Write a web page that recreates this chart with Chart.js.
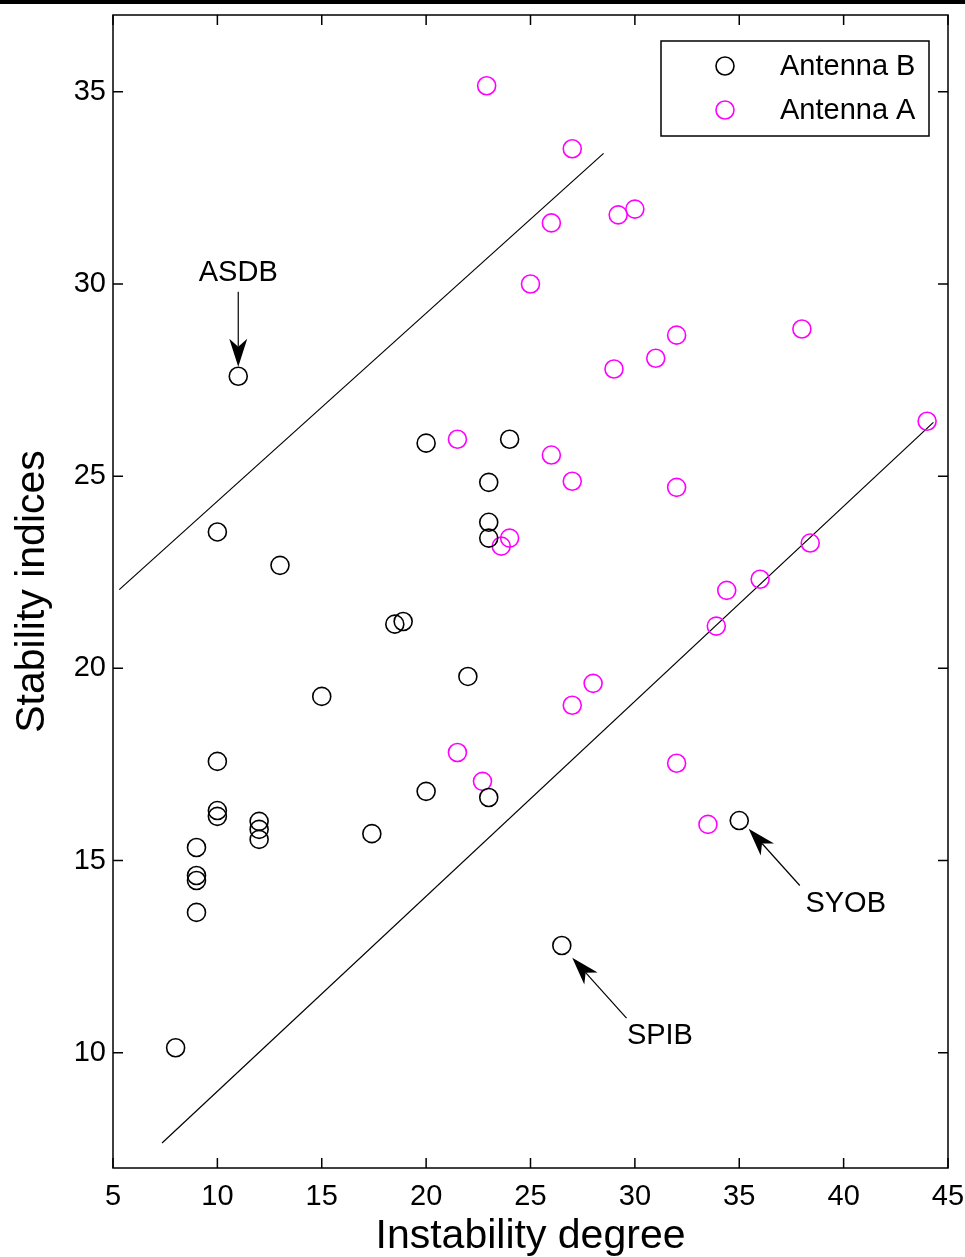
<!DOCTYPE html>
<html>
<head>
<meta charset="utf-8">
<title>Stability indices vs instability degree</title>
<script src="https://cdn.jsdelivr.net/npm/chart.js@4/dist/chart.umd.min.js"></script>
<style>
  html, body { margin: 0; padding: 0; background: #fff; }
  canvas { display: block; }
</style>
</head>
<body>
<canvas id="stabilityChart" width="965" height="1257"></canvas>
<script>
// Antenna B stations (black circles)
const antennaBX = [11, 10, 13, 20, 24, 23, 23, 23, 18.5, 18.9, 22, 15, 10, 10, 10, 12, 12, 12, 17.4, 20, 23, 9, 9, 9, 9, 8, 26.5, 35];
const antennaBY = [27.6, 23.55, 22.68, 25.86, 25.96, 24.84, 23.8, 23.39, 21.15, 21.22, 19.79, 19.27, 17.58, 16.3, 16.15, 16.02, 15.81, 15.55, 15.7, 16.8, 16.64, 15.34, 14.61, 14.48, 13.65, 10.13, 12.79, 16.04];

// Antenna A stations (magenta circles)
const antennaAX = [22.9, 27, 26, 29.2, 30, 25, 29, 31, 32, 38, 44, 21.5, 26, 27, 32, 24, 23.6, 38.4, 36, 34.4, 33.9, 28, 27, 21.5, 22.7, 32, 33.5];
const antennaAY = [35.16, 33.52, 31.59, 31.8, 31.95, 30.0, 27.79, 28.07, 28.67, 28.83, 26.43, 25.96, 25.55, 24.87, 24.71, 23.39, 23.18, 23.26, 22.32, 22.03, 21.1, 19.61, 19.04, 17.81, 17.06, 17.53, 15.94];

// boundary lines (end points)
const upperLineX = [5.3, 28.5];
const upperLineY = [22.05, 33.4];
const lowerLineX = [7.35, 44.3];
const lowerLineY = [7.65, 26.4];

// axis ticks
const xTicks = [5, 10, 15, 20, 25, 30, 35, 40, 45];
const yTicks = [10, 15, 20, 25, 30, 35];

// labelled stations: text position, arrow tail, arrow tip (data units)
const callouts = [
    { text: 'ASDB', tx: 11, ty: 30.3, fromX: 11, fromY: 29.8, toX: 11, toY: 27.85 },
    { text: 'SPIB', tx: 31.2, ty: 10.44, fromX: 29.6, fromY: 10.9, toX: 27.0, toY: 12.47 },
    { text: 'SYOB', tx: 40.1, ty: 13.88, fromX: 37.9, fromY: 14.35, toX: 35.45, toY: 15.83 }
];

const FONT = "'Liberation Sans', Arial, sans-serif";
const MAGENTA = '#ff00ff';

const toPoints = (xs, ys) => xs.map((x, i) => ({ x: x, y: ys[i] }));

// frame, inward tick marks, titles, callouts and legend
const framePlugin = {
    id: 'framePlugin',
    beforeDraw(chart) {
        const ctx = chart.ctx;
        ctx.save();
        ctx.fillStyle = '#fff';
        ctx.fillRect(0, 0, chart.width, chart.height);
        ctx.fillStyle = '#000';
        ctx.fillRect(0, 0, chart.width, 4);
        ctx.restore();
    },
    afterDraw(chart) {
        const ctx = chart.ctx;
        const { left, right, top, bottom } = chart.chartArea;
        const xs = chart.scales.x;
        const ys = chart.scales.y;
        const tick = 10;

        ctx.save();
        ctx.strokeStyle = '#000';
        ctx.lineWidth = 1.5;
        ctx.strokeRect(left, top, right - left, bottom - top);

        ctx.beginPath();
        xTicks.forEach(v => {
            const px = xs.getPixelForValue(v);
            ctx.moveTo(px, bottom); ctx.lineTo(px, bottom - tick);
            ctx.moveTo(px, top); ctx.lineTo(px, top + tick);
        });
        yTicks.forEach(v => {
            const py = ys.getPixelForValue(v);
            ctx.moveTo(left, py); ctx.lineTo(left + tick, py);
            ctx.moveTo(right, py); ctx.lineTo(right - tick, py);
        });
        ctx.stroke();

        // axis titles
        ctx.fillStyle = '#000';
        ctx.font = '41px ' + FONT;
        ctx.textAlign = 'center';
        ctx.textBaseline = 'middle';
        ctx.fillText('Instability degree', (left + right) / 2, 1237);
        ctx.save();
        ctx.translate(33, (top + bottom) / 2);
        ctx.rotate(-Math.PI / 2);
        ctx.fillText('Stability indices', 0, 0);
        ctx.restore();

        // station callouts with arrows
        ctx.font = '29px ' + FONT;
        callouts.forEach(c => {
            ctx.fillText(c.text, xs.getPixelForValue(c.tx), ys.getPixelForValue(c.ty));
            const x0 = xs.getPixelForValue(c.fromX), y0 = ys.getPixelForValue(c.fromY);
            const x1 = xs.getPixelForValue(c.toX), y1 = ys.getPixelForValue(c.toY);
            const ang = Math.atan2(y1 - y0, x1 - x0);
            const headLen = 28, notch = 20, halfW = 9;
            const ux = Math.cos(ang), uy = Math.sin(ang);
            ctx.lineWidth = 1.2;
            ctx.beginPath();
            ctx.moveTo(x0, y0);
            ctx.lineTo(x1 - ux * notch, y1 - uy * notch);
            ctx.stroke();
            ctx.beginPath();
            ctx.moveTo(x1, y1);
            ctx.lineTo(x1 - ux * headLen - uy * halfW, y1 - uy * headLen + ux * halfW);
            ctx.lineTo(x1 - ux * notch, y1 - uy * notch);
            ctx.lineTo(x1 - ux * headLen + uy * halfW, y1 - uy * headLen - ux * halfW);
            ctx.closePath();
            ctx.fill();
        });

        // legend box
        const bx = right - 287, by = top + 26, bw = 268, bh = 95;
        ctx.fillStyle = '#fff';
        ctx.fillRect(bx, by, bw, bh);
        ctx.lineWidth = 1.5;
        ctx.strokeStyle = '#000';
        ctx.strokeRect(bx, by, bw, bh);
        const entries = chart.data.datasets.filter(d => d.showInLegend);
        entries.forEach((d, i) => {
            const cy = by + 25 + i * 44;
            ctx.beginPath();
            ctx.lineWidth = d.borderWidth;
            ctx.strokeStyle = d.borderColor;
            ctx.arc(bx + 64, cy, d.pointRadius, 0, Math.PI * 2);
            ctx.stroke();
            ctx.fillStyle = '#000';
            ctx.font = '29px ' + FONT;
            ctx.textAlign = 'left';
            ctx.fillText(d.label, bx + 119, cy + 1);
        });
        ctx.restore();
    }
};

new Chart(document.getElementById('stabilityChart'), {
    type: 'scatter',
    data: {
        datasets: [
            {
                label: 'Antenna B',
                showInLegend: true,
                data: toPoints(antennaBX, antennaBY),
                borderColor: '#000',
                backgroundColor: 'rgba(0,0,0,0)',
                borderWidth: 1.6,
                pointRadius: 9,
                pointHoverRadius: 9
            },
            {
                label: 'Antenna A',
                showInLegend: true,
                data: toPoints(antennaAX, antennaAY),
                borderColor: MAGENTA,
                backgroundColor: 'rgba(0,0,0,0)',
                borderWidth: 1.6,
                pointRadius: 9,
                pointHoverRadius: 9
            },
            {
                type: 'line',
                label: 'upper',
                data: toPoints(upperLineX, upperLineY),
                borderColor: '#000',
                borderWidth: 1.2,
                pointRadius: 0,
                fill: false
            },
            {
                type: 'line',
                label: 'lower',
                data: toPoints(lowerLineX, lowerLineY),
                borderColor: '#000',
                borderWidth: 1.2,
                pointRadius: 0,
                fill: false
            }
        ]
    },
    options: {
        responsive: false,
        animation: false,
        layout: { padding: { top: 15, right: 17, left: 0, bottom: 0 } },
        plugins: {
            legend: { display: false },
            tooltip: { enabled: false }
        },
        scales: {
            x: {
                type: 'linear',
                min: 5,
                max: 45,
                afterFit: scale => {
                    scale.height = 89;
                    scale.paddingLeft = 0;
                    scale.paddingRight = 0;
                },
                afterBuildTicks: scale => { scale.ticks = xTicks.map(v => ({ value: v })); },
                grid: { display: false, drawTicks: false },
                border: { display: false },
                ticks: {
                    padding: 12,
                    color: '#000',
                    maxRotation: 0,
                    font: { family: FONT, size: 29 }
                }
            },
            y: {
                type: 'linear',
                min: 7,
                max: 37,
                afterFit: scale => {
                    scale.width = 113;
                    scale.paddingTop = 0;
                    scale.paddingBottom = 0;
                },
                afterBuildTicks: scale => { scale.ticks = yTicks.map(v => ({ value: v })); },
                grid: { display: false, drawTicks: false },
                border: { display: false },
                ticks: {
                    padding: 7,
                    color: '#000',
                    font: { family: FONT, size: 29 }
                }
            }
        }
    },
    plugins: [framePlugin]
});
</script>
</body>
</html>
